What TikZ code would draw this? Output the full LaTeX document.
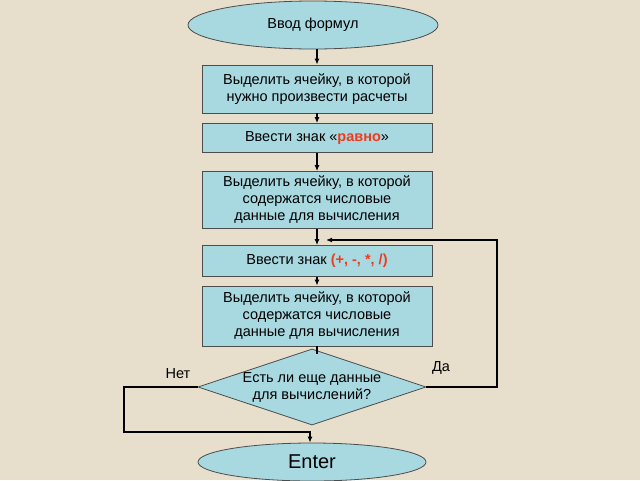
\documentclass[tikz,border=0pt]{standalone}
\usepackage{fontspec}
\setmainfont{Liberation Sans}
\usetikzlibrary{shapes.geometric,arrows.meta}
\definecolor{bgbeige}{RGB}{232,222,204}
\definecolor{boxcyan}{RGB}{168,216,224}
\definecolor{signred}{RGB}{240,60,30}
\tikzset{
    block/.style={
        rectangle, draw=black!70, fill=boxcyan, line width=0.8pt,
        minimum width=230pt, align=center, font=\fontsize{14.5}{17}\selectfont
    },
    terminal/.style={
        ellipse, draw=black!70, fill=boxcyan, line width=0.8pt,
        align=center
    }
}

\begin{document}
\begin{tikzpicture}[x=1pt, y=-1pt, >={Latex[length=6pt,width=5pt]}, line width=1.6pt]

    \fill[bgbeige] (0,0) rectangle (640,480);
    \useasboundingbox (0,0) rectangle (640,480);

    % Узлы
    \node[terminal, minimum width=250pt, minimum height=48pt, font=\fontsize{14.5}{17}\selectfont] (start) at (313,25) {Ввод формул};
    \node[block, minimum height=48pt] (cell) at (317,89) {Выделить ячейку, в которой\\нужно произвести расчеты};
    \node[block, minimum height=29pt] (eq) at (317,138) {Ввести знак «\textcolor{signred}{\textbf{равно}}»};
    \node[block, minimum height=57pt] (data1) at (317,200) {Выделить ячейку, в которой\\содержатся числовые\\данные для вычисления};
    \node[block, minimum height=31pt] (op) at (317,261) {Ввести знак \textcolor{signred}{\textbf{(+, -, *, /)}}};
    \node[block, minimum height=60pt] (data2) at (317,316) {Выделить ячейку, в которой\\содержатся числовые\\данные для вычисления};
    \node[diamond, draw=black!70, fill=boxcyan, line width=0.8pt, aspect=3, minimum width=223pt, minimum height=75pt, inner sep=0pt, align=center, font=\fontsize{14.5}{17}\selectfont] (ask) at (312,387) {Есть ли еще данные\\для вычислений?};
    \node[terminal, minimum width=228pt, minimum height=38pt, font=\fontsize{20}{22}\selectfont] (enter) at (312,462) {Enter};
    \coordinate (loopin) at (326,240);
    \coordinate (nocorner) at (124,432);

    % Соединения
    \draw[->] (start.south -| cell.north) -- (cell);
    \draw[->] (cell) -- (eq);
    \draw[->] (eq) -- (data1);
    \draw[->] (data1) -- (op);
    \draw[->] (op) -- (data2);
    \draw (data2.south) -- ++(0,8);
    \draw[->] (ask.east) -- (497,387) |- (loopin);
    \draw[->] (ask.west) -| (nocorner) -| ([xshift=-2pt]enter.north);

    \node[font=\fontsize{14.5}{17}\selectfont] (no) at (178,374) {Нет};
    \node[font=\fontsize{14.5}{17}\selectfont] (yes) at (441,368) {Да};

\end{tikzpicture}
\end{document}
